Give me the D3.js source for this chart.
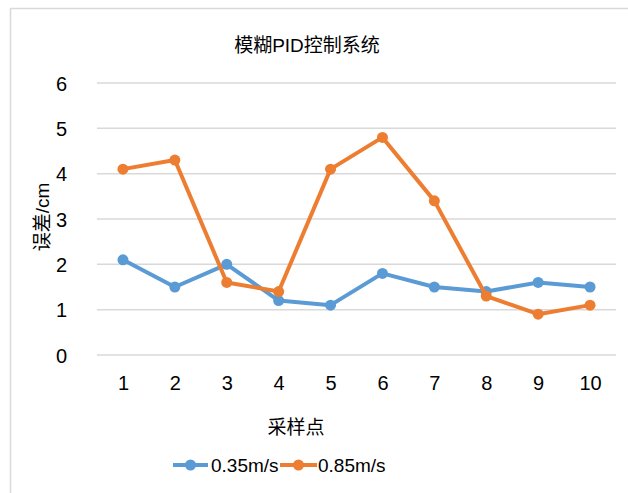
<!DOCTYPE html>
<html>
<head>
<meta charset="utf-8">
<script src="https://cdn.jsdelivr.net/npm/d3@7"></script>
<style>
  html, body { margin: 0; padding: 0; background: #fff; }
  svg { display: block; }
  text { font-family: "Liberation Sans", Arial, "Noto Sans CJK SC", sans-serif; fill: #000; }
</style>
</head>
<body>
<svg id="chart" width="628" height="493"></svg>
<script>
// Sampling points and tracking error (cm) at two speeds
const samplePoints = [1, 2, 3, 4, 5, 6, 7, 8, 9, 10];
const errorSlow = [2.1, 1.5, 2.0, 1.2, 1.1, 1.8, 1.5, 1.4, 1.6, 1.5];
const errorFast = [4.1, 4.3, 1.6, 1.4, 4.1, 4.8, 3.4, 1.3, 0.9, 1.1];
const seriesNames = ["0.35m/s", "0.85m/s"];
const seriesColors = ["#5b9bd5", "#ed7d31"];
const yTicks = [0, 1, 2, 3, 4, 5, 6];

const svg = d3.select("#chart");
const W = 628, H = 493;

// chart frame
svg.append("rect")
  .attr("x", 10.5).attr("y", 8.5)
  .attr("width", W + 10).attr("height", H + 10)
  .attr("fill", "#fff").attr("stroke", "#d9d9d9").attr("stroke-width", 1.5);

const plot = { left: 97, right: 616, top: 83, bottom: 355 };

const x = d3.scalePoint().domain(samplePoints).range([plot.left, plot.right]).padding(0.5);
const y = d3.scaleLinear().domain([0, 6]).range([plot.bottom, plot.top]);

// horizontal gridlines
svg.append("g").selectAll("line").data(yTicks).join("line")
  .attr("x1", plot.left).attr("x2", plot.right)
  .attr("y1", d => y(d)).attr("y2", d => y(d))
  .attr("stroke", "#d9d9d9").attr("stroke-width", 1.5);

// y axis labels
const yAxis = d3.axisLeft(y).tickValues(yTicks).tickSize(0).tickPadding(0).tickFormat(d3.format("d"));
const gy = svg.append("g").attr("transform", `translate(${plot.left - 30},0)`).call(yAxis);
gy.select(".domain").remove();
gy.selectAll("text").attr("font-size", 20).attr("dy", "0.35em")
  .style("font-family", "'Liberation Sans', Arial, sans-serif");

// x axis labels
const xAxis = d3.axisBottom(x).tickSize(0).tickPadding(0);
const gx = svg.append("g").attr("transform", `translate(0,${plot.bottom + 20})`).call(xAxis);
gx.select(".domain").remove();
gx.selectAll("text").attr("font-size", 20).attr("dy", "0.75em")
  .style("font-family", "'Liberation Sans', Arial, sans-serif");

// series
const series = [errorSlow, errorFast];
const line = d3.line().x((d, i) => x(samplePoints[i])).y(d => y(d));
series.forEach((vals, k) => {
  svg.append("path").datum(vals)
    .attr("fill", "none").attr("stroke", seriesColors[k])
    .attr("stroke-width", 4).attr("stroke-linejoin", "round")
    .attr("d", line);
  svg.append("g").selectAll("circle").data(vals).join("circle")
    .attr("cx", (d, i) => x(samplePoints[i])).attr("cy", d => y(d))
    .attr("r", 5.5).attr("fill", seriesColors[k]);
});

// title
svg.append("text").attr("x", 307).attr("y", 52)
  .attr("text-anchor", "middle").attr("font-size", 19)
  .text("模糊PID控制系统");

// axis titles
svg.append("text").attr("x", 296).attr("y", 434)
  .attr("text-anchor", "middle").attr("font-size", 19)
  .text("采样点");
svg.append("text")
  .attr("transform", "translate(49,217) rotate(-90)")
  .attr("text-anchor", "middle").attr("font-size", 19)
  .text("误差/cm");

// legend
const legendItems = [
  { x0: 173, x1: 208, tx: 211 },
  { x0: 280, x1: 317, tx: 318 }
];
const ly = 465;
legendItems.forEach((it, k) => {
  svg.append("line").attr("x1", it.x0).attr("x2", it.x1).attr("y1", ly).attr("y2", ly)
    .attr("stroke", seriesColors[k]).attr("stroke-width", 4);
  svg.append("circle").attr("cx", (it.x0 + it.x1) / 2).attr("cy", ly).attr("r", 5.5)
    .attr("fill", seriesColors[k]);
  svg.append("text").attr("x", it.tx).attr("y", ly).attr("dy", "0.35em")
    .attr("font-size", 19).text(seriesNames[k]);
});
</script>
</body>
</html>
